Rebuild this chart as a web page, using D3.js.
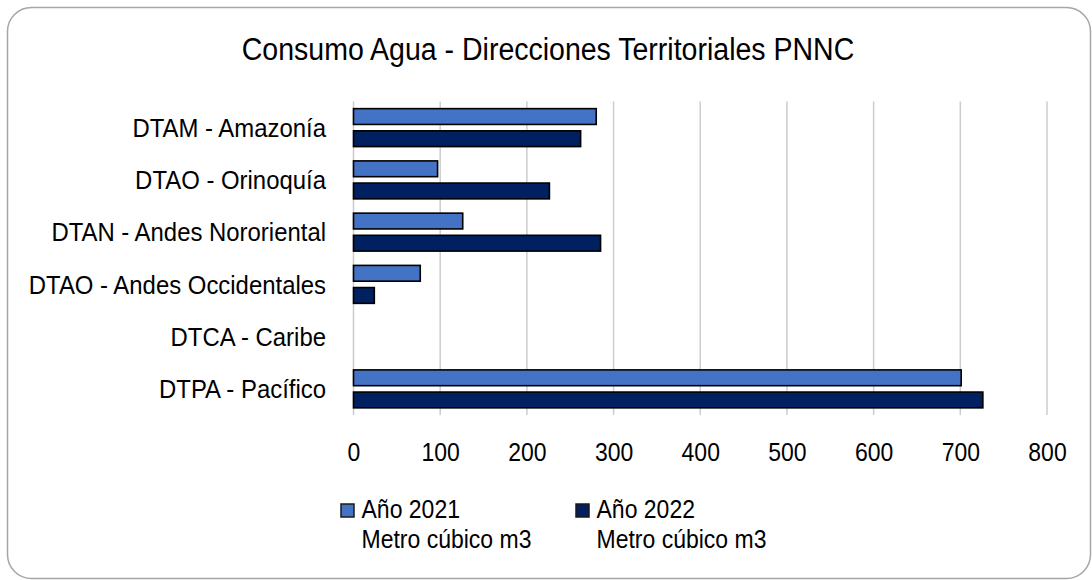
<!DOCTYPE html>
<html>
<head>
<meta charset="utf-8">
<script src="https://cdn.jsdelivr.net/npm/d3@7"></script>
<style>
    body { margin: 0; background: #fff; }
    text { font-family: "Liberation Sans", Arial, sans-serif; fill: #000; }
</style>
</head>
<body>
<svg id="chart" width="1092" height="580"></svg>
<script>
// datos del grafico
var titulo = "Consumo Agua - Direcciones Territoriales PNNC";
var categorias = ["DTAM - Amazonía", "DTAO - Orinoquía", "DTAN - Andes Nororiental",
    "DTAO - Andes Occidentales", "DTCA - Caribe", "DTPA - Pacífico"];
var series = ["Año 2021", "Año 2022"];
var unidad = "Metro cúbico m3";
var valores2021 = [280, 97, 126, 77, 0, 701];
var valores2022 = [262, 226, 285, 24, 0, 726];
var ticksX = [0, 100, 200, 300, 400, 500, 600, 700, 800];
var colores = ["#4472C4", "#002060"];

// la fuente del original es algo estrecha
var ESTRECHO = 0.92;

var svg = d3.select("#chart");

// marco redondeado
svg.append("rect")
    .attr("x", 7.5)
    .attr("y", 7.5)
    .attr("width", 1083)
    .attr("height", 571)
    .attr("rx", 24)
    .attr("ry", 24)
    .attr("fill", "#fff")
    .attr("stroke", "#a6a6a6")
    .attr("stroke-width", 1.5);

svg.append("text")
    .attr("transform", "translate(548,60) scale(" + ESTRECHO + ",1)")
    .attr("text-anchor", "middle")
    .attr("font-size", 31)
    .text(titulo);

var x = d3.scaleLinear()
    .domain([0, 800])
    .range([353.5, 1047]);

var y = d3.scaleBand()
    .domain(categorias)
    .range([101.5, 415])
    .paddingInner(0.245)
    .paddingOuter(0.1225);

var ySerie = d3.scaleBand()
    .domain(series)
    .range([0, y.bandwidth()])
    .paddingInner(0.22);

// lineas de cuadricula
svg.append("g")
    .attr("id", "grid")
    .selectAll("line")
    .data(ticksX)
    .enter()
    .append("line")
    .attr("x1", function (d) { return x(d); })
    .attr("x2", function (d) { return x(d); })
    .attr("y1", 101.5)
    .attr("y2", 415)
    .attr("stroke", "#cccccc")
    .attr("stroke-width", 1.5);

// etiquetas eje x
var ejeX = svg.append("g")
    .attr("transform", "translate(0,415)")
    .call(d3.axisBottom(x).tickValues(ticksX).tickSize(0).tickPadding(0));
ejeX.select(".domain").remove();
ejeX.selectAll("text")
    .attr("y", 0)
    .attr("dy", 0)
    .attr("transform", "translate(0,46) scale(" + ESTRECHO + ",1)")
    .attr("font-size", 25)
    .attr("font-family", "Liberation Sans, Arial, sans-serif")
    .attr("fill", "#000");

// etiquetas eje y
var ejeY = svg.append("g")
    .attr("transform", "translate(326,0)")
    .call(d3.axisLeft(y).tickSize(0).tickPadding(0));
ejeY.select(".domain").remove();
ejeY.selectAll("text")
    .attr("x", 0)
    .attr("dy", "0.36em")
    .attr("transform", "scale(" + ESTRECHO + ",1)")
    .attr("font-size", 26)
    .attr("font-family", "Liberation Sans, Arial, sans-serif")
    .attr("fill", "#000");

// barras
var filas = categorias.map(function (c, i) {
    return {cat: c, vals: [valores2021[i], valores2022[i]]};
});

var grupos = svg.append("g")
    .attr("id", "barras")
    .selectAll("g")
    .data(filas)
    .enter()
    .append("g")
    .attr("transform", function (d) { return "translate(0," + y(d.cat) + ")"; });

grupos.selectAll("rect")
    .data(function (d) {
        return d.vals.map(function (v, j) { return {serie: series[j], v: v, j: j}; })
            .filter(function (e) { return e.v > 0; });
    })
    .enter()
    .append("rect")
    .attr("x", x(0))
    .attr("y", function (d) { return ySerie(d.serie) + 0.75; })
    .attr("width", function (d) { return x(d.v) - x(0); })
    .attr("height", ySerie.bandwidth() - 1.5)
    .attr("fill", function (d) { return colores[d.j]; })
    .attr("stroke", "#000")
    .attr("stroke-width", 1.6);

// leyenda
var posLeyenda = [340, 575];
var leyenda = svg.append("g")
    .attr("id", "leyenda")
    .selectAll("g")
    .data(series)
    .enter()
    .append("g")
    .attr("transform", function (d, i) { return "translate(" + posLeyenda[i] + ",0)"; });

leyenda.append("rect")
    .attr("x", 1)
    .attr("y", 504)
    .attr("width", 13)
    .attr("height", 13)
    .attr("fill", function (d, i) { return colores[i]; })
    .attr("stroke", "#1a1a1a")
    .attr("stroke-width", 1.5);

leyenda.append("text")
    .attr("transform", "translate(21.5,518) scale(" + ESTRECHO + ",1)")
    .attr("font-size", 25)
    .text(function (d) { return d; });

leyenda.append("text")
    .attr("transform", "translate(21.5,548) scale(" + ESTRECHO + ",1)")
    .attr("font-size", 25)
    .text(unidad);
</script>
</body>
</html>
